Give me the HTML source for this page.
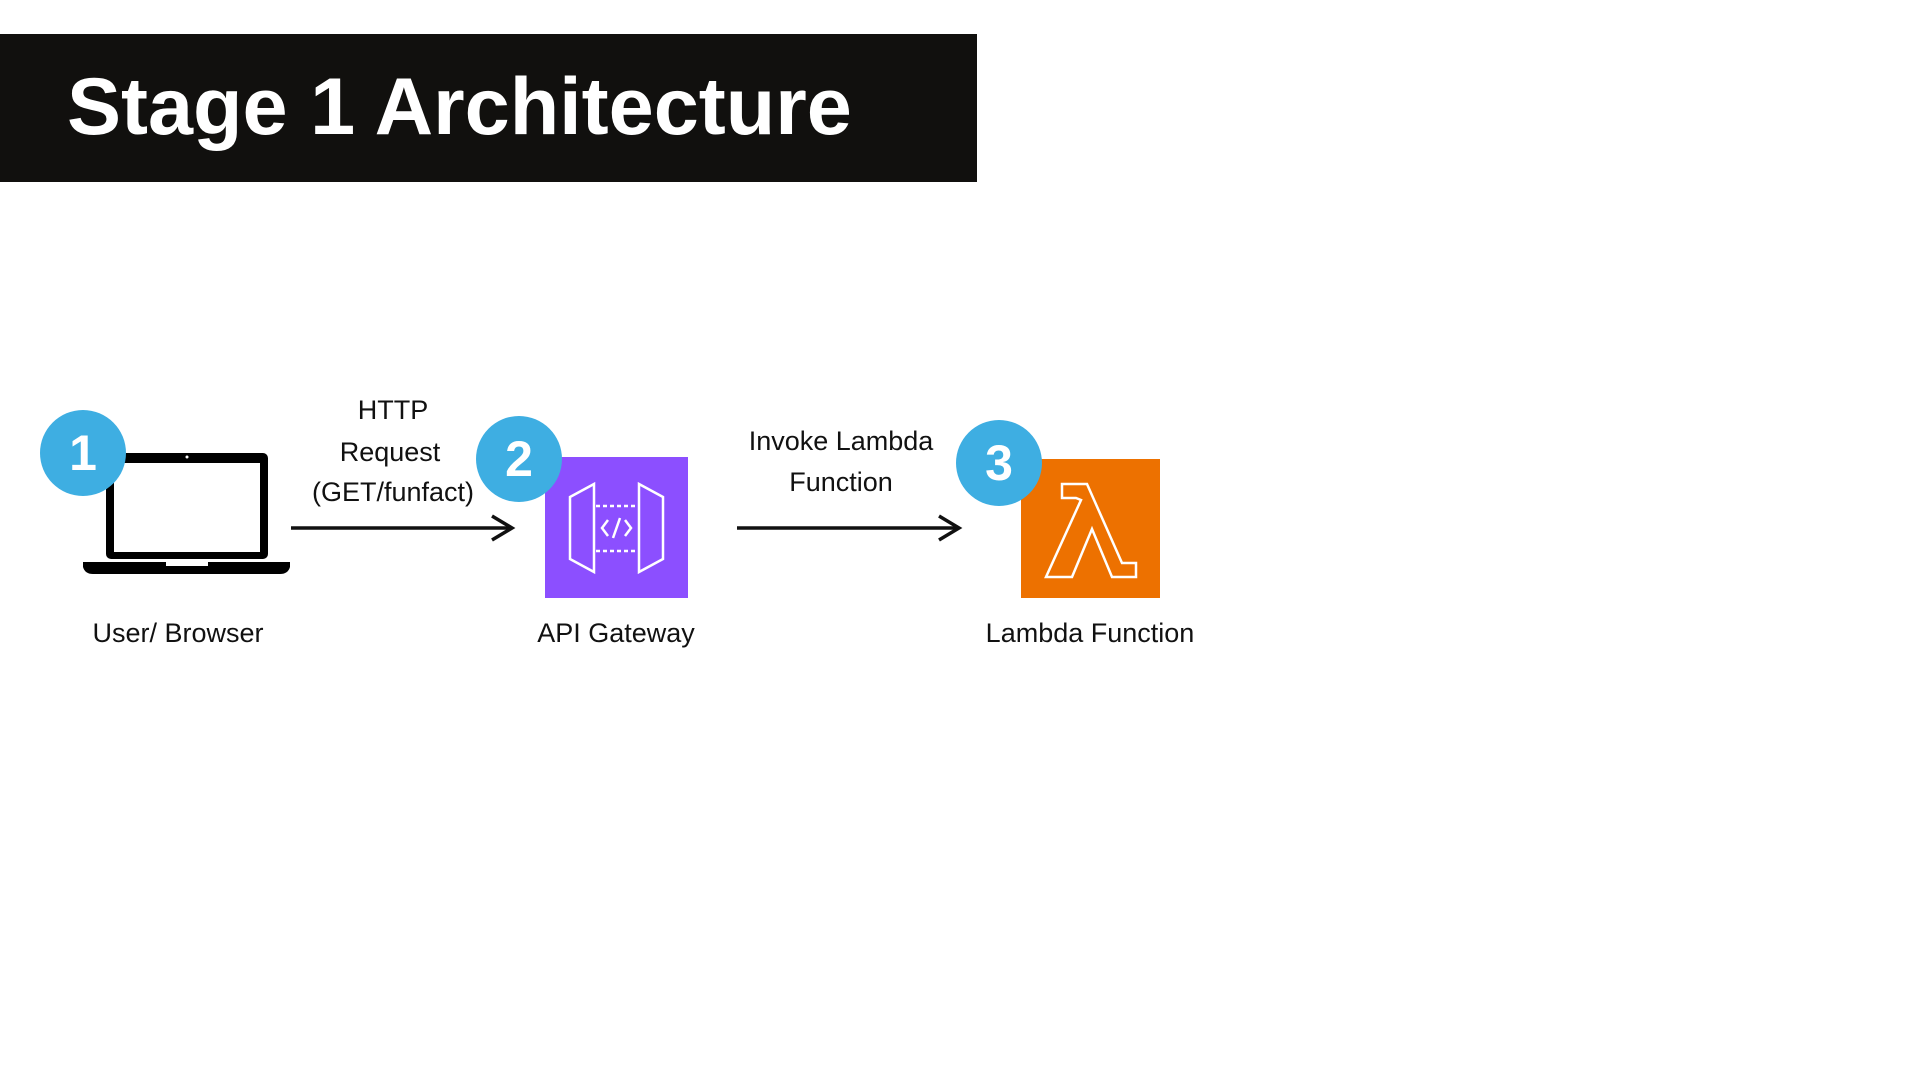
<!DOCTYPE html>
<html><head><meta charset="utf-8"><style>
body{margin:0;width:1920px;height:1080px;background:#fff;position:relative;overflow:hidden;font-family:"Liberation Sans",sans-serif}
.t{position:absolute;color:#111;font-size:27px;text-align:center;transform:translateX(-50%);white-space:nowrap;line-height:1}
.c{position:absolute;width:86px;height:86px;border-radius:50%;background:#3eaee2;color:#fff;font-weight:bold;font-size:50px;display:flex;align-items:center;justify-content:center}
</style></head><body>
<div style="position:absolute;left:0;top:34px;width:977px;height:148px;background:#11100e"></div>
<div style="position:absolute;left:67px;top:67px;color:#fff;font-weight:bold;font-size:81px;line-height:1;letter-spacing:0">Stage 1 Architecture</div>
<svg width="1920" height="1080" style="position:absolute;left:0;top:0">
 <rect x="106" y="453" width="162" height="106" rx="5" fill="#000"/>
 <rect x="114" y="463" width="146" height="89" fill="#fff"/>
 <circle cx="187" cy="457" r="1.5" fill="#fff"/>
 <path d="M83 562 H290 V567 Q288 574 280 574 H93 Q85 574 83 567 Z" fill="#000"/>
 <rect x="166" y="562" width="42" height="4" fill="#fff"/>
 <g stroke="#111" stroke-width="3.5" fill="none">
  <line x1="291" y1="528" x2="510" y2="528"/><polyline points="492,516 512,528 492,540"/>
  <line x1="737" y1="528" x2="957" y2="528"/><polyline points="939,516 959,528 939,540"/>
 </g>
 <rect x="545" y="457" width="143" height="141" fill="#8c4fff"/>
 <g stroke="#fff" stroke-width="2.5" fill="none">
  <path d="M570 497 L594 484 V572 L570 559 Z"/>
  <path d="M663 497 L639 484 V572 L663 559 Z"/>
  <line x1="596" y1="506" x2="637" y2="506" stroke-dasharray="4 3"/>
  <line x1="596" y1="551" x2="637" y2="551" stroke-dasharray="4 3"/>
  <polyline points="608,520 602,528 608,536"/><polyline points="625,520 631,528 625,536"/><line x1="620" y1="518" x2="613" y2="538"/>
 </g>
 <rect x="1021" y="459" width="139" height="139" fill="#ed7100"/>
 <path d="M1062 484 H1087 L1122 563 H1136 V577 H1112 L1092 529 L1072 577 H1046 L1081 500 L1076 498 H1062 Z" fill="none" stroke="#fff" stroke-width="2.5"/>
</svg>
<div class="c" style="left:40px;top:410px">1</div>
<div class="c" style="left:476px;top:416px">2</div>
<div class="c" style="left:956px;top:420px">3</div>
<div class="t" style="left:393px;top:397px">HTTP</div>
<div class="t" style="left:390px;top:439px">Request</div>
<div class="t" style="left:393px;top:479px">(GET/funfact)</div>
<div class="t" style="left:841px;top:428px">Invoke Lambda</div>
<div class="t" style="left:841px;top:469px">Function</div>
<div class="t" style="left:178px;top:620px">User/ Browser</div>
<div class="t" style="left:616px;top:620px">API Gateway</div>
<div class="t" style="left:1090px;top:620px">Lambda Function</div>
</body></html>
